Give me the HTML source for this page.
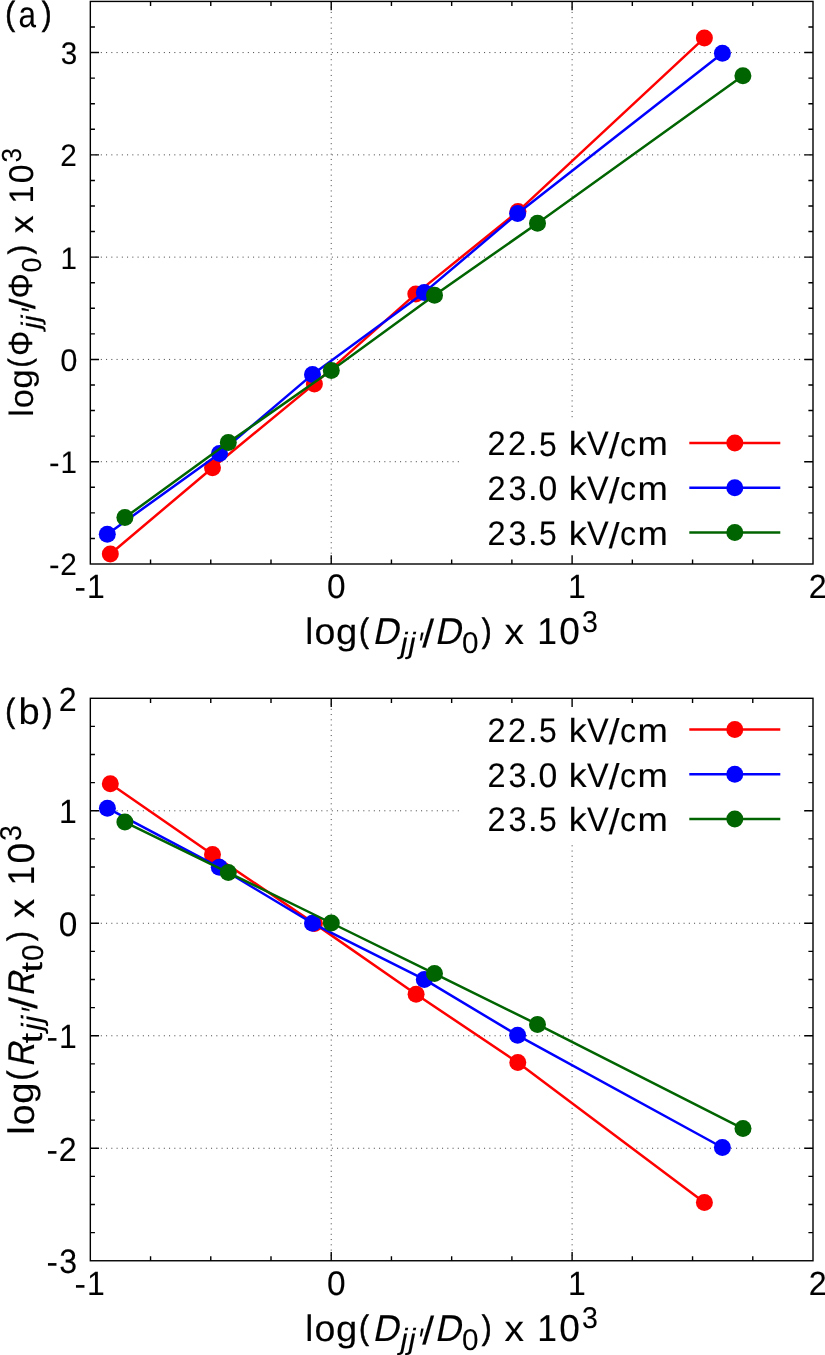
<!DOCTYPE html>
<html><head><meta charset="utf-8"><style>
html,body{margin:0;padding:0;background:#fff;overflow:hidden}
svg{display:block;will-change:transform}
text{font-family:"Liberation Sans",sans-serif;text-rendering:geometricPrecision}

</style></head><body>
<svg width="825" height="1355" viewBox="0 0 825 1355">
<rect x="0" y="0" width="825" height="1355" fill="#fff"/>
<line x1="90.33" y1="461.71" x2="813.0" y2="461.71" stroke="#404040" stroke-width="1" stroke-dasharray="1 4.25"/>
<line x1="90.33" y1="359.43" x2="813.0" y2="359.43" stroke="#404040" stroke-width="1" stroke-dasharray="1 4.25"/>
<line x1="90.33" y1="257.14" x2="813.0" y2="257.14" stroke="#404040" stroke-width="1" stroke-dasharray="1 4.25"/>
<line x1="90.33" y1="154.86" x2="813.0" y2="154.86" stroke="#404040" stroke-width="1" stroke-dasharray="1 4.25"/>
<line x1="90.33" y1="52.57" x2="813.0" y2="52.57" stroke="#404040" stroke-width="1" stroke-dasharray="1 4.25"/>
<line x1="331.22" y1="1.43" x2="331.22" y2="564.0" stroke="#404040" stroke-width="1" stroke-dasharray="1 4.25"/>
<line x1="572.11" y1="1.43" x2="572.11" y2="564.0" stroke="#404040" stroke-width="1" stroke-dasharray="1 4.25"/>
<rect x="462.5" y="421.00" width="337.5" height="142.60" fill="#fff"/>
<polyline points="110.30,554.00 212.50,467.70 314.40,383.90 415.80,293.90 518.00,211.40 704.40,37.90" fill="none" stroke="#ff0000" stroke-width="2.5" stroke-linejoin="round"/>
<circle cx="110.30" cy="554.00" r="8.5" fill="#ff0000"/>
<circle cx="212.50" cy="467.70" r="8.5" fill="#ff0000"/>
<circle cx="314.40" cy="383.90" r="8.5" fill="#ff0000"/>
<circle cx="415.80" cy="293.90" r="8.5" fill="#ff0000"/>
<circle cx="518.00" cy="211.40" r="8.5" fill="#ff0000"/>
<circle cx="704.40" cy="37.90" r="8.5" fill="#ff0000"/>
<polyline points="107.30,534.20 219.50,453.40 312.50,374.40 424.30,292.40 517.60,213.50 722.40,53.20" fill="none" stroke="#0000ff" stroke-width="2.5" stroke-linejoin="round"/>
<circle cx="107.30" cy="534.20" r="8.5" fill="#0000ff"/>
<circle cx="219.50" cy="453.40" r="8.5" fill="#0000ff"/>
<circle cx="312.50" cy="374.40" r="8.5" fill="#0000ff"/>
<circle cx="424.30" cy="292.40" r="8.5" fill="#0000ff"/>
<circle cx="517.60" cy="213.50" r="8.5" fill="#0000ff"/>
<circle cx="722.40" cy="53.20" r="8.5" fill="#0000ff"/>
<polyline points="124.90,517.60 228.30,442.60 331.30,370.60 434.50,295.20 537.50,223.30 742.90,75.80" fill="none" stroke="#006400" stroke-width="2.5" stroke-linejoin="round"/>
<circle cx="124.90" cy="517.60" r="8.5" fill="#006400"/>
<circle cx="228.30" cy="442.60" r="8.5" fill="#006400"/>
<circle cx="331.30" cy="370.60" r="8.5" fill="#006400"/>
<circle cx="434.50" cy="295.20" r="8.5" fill="#006400"/>
<circle cx="537.50" cy="223.30" r="8.5" fill="#006400"/>
<circle cx="742.90" cy="75.80" r="8.5" fill="#006400"/>
<rect x="90.33" y="1.43" width="722.67" height="562.57" fill="none" stroke="#000" stroke-width="1.4"/>
<path d="M150.55 564.0v-4.6M150.55 1.43v4.6M210.77 564.0v-4.6M210.77 1.43v4.6M271.00 564.0v-4.6M271.00 1.43v4.6M331.22 564.0v-8.7M331.22 1.43v8.7M391.44 564.0v-4.6M391.44 1.43v4.6M451.66 564.0v-4.6M451.66 1.43v4.6M511.89 564.0v-4.6M511.89 1.43v4.6M572.11 564.0v-8.7M572.11 1.43v8.7M632.33 564.0v-4.6M632.33 1.43v4.6M692.56 564.0v-4.6M692.56 1.43v4.6M752.78 564.0v-4.6M752.78 1.43v4.6M90.33 538.43h4.6M813.0 538.43h-4.6M90.33 512.86h4.6M813.0 512.86h-4.6M90.33 487.29h4.6M813.0 487.29h-4.6M90.33 461.71h8.7M813.0 461.71h-8.7M90.33 436.14h4.6M813.0 436.14h-4.6M90.33 410.57h4.6M813.0 410.57h-4.6M90.33 385.00h4.6M813.0 385.00h-4.6M90.33 359.43h8.7M813.0 359.43h-8.7M90.33 333.86h4.6M813.0 333.86h-4.6M90.33 308.29h4.6M813.0 308.29h-4.6M90.33 282.71h4.6M813.0 282.71h-4.6M90.33 257.14h8.7M813.0 257.14h-8.7M90.33 231.57h4.6M813.0 231.57h-4.6M90.33 206.00h4.6M813.0 206.00h-4.6M90.33 180.43h4.6M813.0 180.43h-4.6M90.33 154.86h8.7M813.0 154.86h-8.7M90.33 129.29h4.6M813.0 129.29h-4.6M90.33 103.72h4.6M813.0 103.72h-4.6M90.33 78.14h4.6M813.0 78.14h-4.6M90.33 52.57h8.7M813.0 52.57h-8.7M90.33 27.00h4.6M813.0 27.00h-4.6" stroke="#000" stroke-width="1.4" fill="none"/>
<text transform="matrix(1.016 0 0 1.063 487.6 455.4)" font-size="32.00" fill="#000" stroke="#000" stroke-width="0.1">2</text>
<text transform="matrix(1.016 0 0 1.063 508 455.4)" font-size="32.00" fill="#000" stroke="#000" stroke-width="0.1">2</text>
<text transform="matrix(1.082 0 0 1.16 527.9 455.4)" font-size="32.00" fill="#000" stroke="#000" stroke-width="0.1">.</text>
<text transform="matrix(0.9949 0 0 1.065 539 455.5)" font-size="32.00" fill="#000" stroke="#000" stroke-width="0.1">5</text>
<text transform="matrix(1.118 0 0 1.049 568.8 455.4)" font-size="32.00" fill="#000" stroke="#000" stroke-width="0.1">k</text>
<text transform="matrix(1.015 0 0 1.06 587 455.4)" font-size="32.00" fill="#000" stroke="#000" stroke-width="0.1">V</text>
<text transform="matrix(1.213 0 0 1.119 608.8 458)" font-size="32.00" fill="#000" stroke="#000" stroke-width="0.1">/</text>
<text transform="matrix(1.003 0 0 1.048 619.9 455.5)" font-size="32.00" fill="#000" stroke="#000" stroke-width="0.1">c</text>
<text transform="matrix(1.139 0 0 1.041 637.6 455.4)" font-size="32.00" fill="#000" stroke="#000" stroke-width="0.1">m</text>
<line x1="689.3" y1="443.10" x2="780.3" y2="443.10" stroke="#ff0000" stroke-width="2.5"/>
<circle cx="734.8" cy="443.10" r="8.5" fill="#ff0000"/>
<text transform="matrix(1.016 0 0 1.063 487.6 500.2)" font-size="32.00" fill="#000" stroke="#000" stroke-width="0.1">2</text>
<text transform="matrix(1.012 0 0 1.068 508.5 500.3)" font-size="32.00" fill="#000" stroke="#000" stroke-width="0.1">3</text>
<text transform="matrix(1.082 0 0 1.16 527.9 500.2)" font-size="32.00" fill="#000" stroke="#000" stroke-width="0.1">.</text>
<text transform="matrix(1.054 0 0 1.068 538.6 500.3)" font-size="32.00" fill="#000" stroke="#000" stroke-width="0.1">0</text>
<text transform="matrix(1.118 0 0 1.049 568.8 500.2)" font-size="32.00" fill="#000" stroke="#000" stroke-width="0.1">k</text>
<text transform="matrix(1.015 0 0 1.06 587 500.2)" font-size="32.00" fill="#000" stroke="#000" stroke-width="0.1">V</text>
<text transform="matrix(1.213 0 0 1.119 608.8 502.8)" font-size="32.00" fill="#000" stroke="#000" stroke-width="0.1">/</text>
<text transform="matrix(1.003 0 0 1.048 619.9 500.3)" font-size="32.00" fill="#000" stroke="#000" stroke-width="0.1">c</text>
<text transform="matrix(1.139 0 0 1.041 637.6 500.2)" font-size="32.00" fill="#000" stroke="#000" stroke-width="0.1">m</text>
<line x1="689.3" y1="487.85" x2="780.3" y2="487.85" stroke="#0000ff" stroke-width="2.5"/>
<circle cx="734.8" cy="487.85" r="8.5" fill="#0000ff"/>
<text transform="matrix(1.016 0 0 1.063 487.6 544.9)" font-size="32.00" fill="#000" stroke="#000" stroke-width="0.1">2</text>
<text transform="matrix(1.012 0 0 1.068 508.5 545)" font-size="32.00" fill="#000" stroke="#000" stroke-width="0.1">3</text>
<text transform="matrix(1.082 0 0 1.16 527.9 544.9)" font-size="32.00" fill="#000" stroke="#000" stroke-width="0.1">.</text>
<text transform="matrix(0.9949 0 0 1.065 539 545)" font-size="32.00" fill="#000" stroke="#000" stroke-width="0.1">5</text>
<text transform="matrix(1.118 0 0 1.049 568.8 544.9)" font-size="32.00" fill="#000" stroke="#000" stroke-width="0.1">k</text>
<text transform="matrix(1.015 0 0 1.06 587 544.9)" font-size="32.00" fill="#000" stroke="#000" stroke-width="0.1">V</text>
<text transform="matrix(1.213 0 0 1.119 608.8 547.5)" font-size="32.00" fill="#000" stroke="#000" stroke-width="0.1">/</text>
<text transform="matrix(1.003 0 0 1.048 619.9 545)" font-size="32.00" fill="#000" stroke="#000" stroke-width="0.1">c</text>
<text transform="matrix(1.139 0 0 1.041 637.6 544.9)" font-size="32.00" fill="#000" stroke="#000" stroke-width="0.1">m</text>
<line x1="689.3" y1="532.60" x2="780.3" y2="532.60" stroke="#006400" stroke-width="2.5"/>
<circle cx="734.8" cy="532.60" r="8.5" fill="#006400"/>
<text transform="matrix(1.012 0 0 1.068 60.66 64.11)" font-size="29.30" fill="#000" stroke="#000" stroke-width="0.1">3</text>
<text transform="matrix(1.016 0 0 1.063 60.21 166.3)" font-size="29.30" fill="#000" stroke="#000" stroke-width="0.1">2</text>
<text transform="matrix(1.007 0 0 1.06 60.53 268.6)" font-size="29.30" fill="#000" stroke="#000" stroke-width="0.1">1</text>
<text transform="matrix(1.054 0 0 1.068 60.28 371)" font-size="29.30" fill="#000" stroke="#000" stroke-width="0.1">0</text>
<text transform="matrix(1.078 0 0 1.025 49.01 473.1)" font-size="29.30" fill="#000" stroke="#000" stroke-width="0.1">-</text>
<text transform="matrix(1.007 0 0 1.06 60.53 473.1)" font-size="29.30" fill="#000" stroke="#000" stroke-width="0.1">1</text>
<text transform="matrix(1.078 0 0 1.025 49.01 575.4)" font-size="29.30" fill="#000" stroke="#000" stroke-width="0.1">-</text>
<text transform="matrix(1.016 0 0 1.063 60.21 575.4)" font-size="29.30" fill="#000" stroke="#000" stroke-width="0.1">2</text>
<text transform="matrix(1.078 0 0 1.025 74.56 598.2)" font-size="31.70" fill="#000" stroke="#000" stroke-width="0.1">-</text>
<text transform="matrix(1.007 0 0 1.06 87.02 598.3)" font-size="31.70" fill="#000" stroke="#000" stroke-width="0.1">1</text>
<text transform="matrix(1.054 0 0 1.068 327 598.4)" font-size="31.70" fill="#000" stroke="#000" stroke-width="0.1">0</text>
<text transform="matrix(1.007 0 0 1.06 568.1 598.3)" font-size="31.70" fill="#000" stroke="#000" stroke-width="0.1">1</text>
<text transform="matrix(1.016 0 0 1.063 808.7 598.3)" font-size="31.70" fill="#000" stroke="#000" stroke-width="0.1">2</text>
<text transform="matrix(1.022 0 0 1.049 305.2 644.1)" font-size="35.20" fill="#000" stroke="#000" stroke-width="0.1">l</text>
<text transform="matrix(1.063 0 0 1.048 314.5 644.2)" font-size="35.20" fill="#000" stroke="#000" stroke-width="0.1">o</text>
<text transform="matrix(1.087 0 0 1.032 336 643.9)" font-size="35.20" fill="#000" stroke="#000" stroke-width="0.1">g</text>
<text transform="matrix(0.8453 0 0 0.956 359.1 641.8)" font-size="35.20" fill="#000" stroke="#000" stroke-width="0.6">(</text>
<text transform="matrix(1.035 0 -0.2119 1.06 372.2 644.1)" font-size="35.20" fill="#000" stroke="#000" stroke-width="0.1">D</text>
<text transform="matrix(1.128 0 -0.2076 1.038 399.1 652.7)" font-size="28.20" fill="#000" stroke="#000" stroke-width="0.1">j</text>
<text transform="matrix(1.128 0 -0.2076 1.038 406.9 652.7)" font-size="28.20" fill="#000" stroke="#000" stroke-width="0.1">j</text>
<text transform="matrix(0.9239 0 -0.2506 1.253 415.1 656.6)" font-size="28.20" fill="#000" stroke="#000" stroke-width="0.1">&#39;</text>
<text transform="matrix(1.213 0 0 1.119 422.2 647)" font-size="35.20" fill="#000" stroke="#000" stroke-width="0.1">/</text>
<text transform="matrix(1.035 0 -0.2119 1.06 434.5 644.1)" font-size="35.20" fill="#000" stroke="#000" stroke-width="0.1">D</text>
<text transform="matrix(1.054 0 0 1.068 461.9 653)" font-size="28.20" fill="#000" stroke="#000" stroke-width="0.1">0</text>
<text transform="matrix(0.8453 0 0 0.956 481.8 641.8)" font-size="35.20" fill="#000" stroke="#000" stroke-width="0.6">)</text>
<text transform="matrix(1.109 0 0 1.035 504.6 644.1)" font-size="35.20" fill="#000" stroke="#000" stroke-width="0.1">x</text>
<text transform="matrix(1.007 0 0 1.06 537.2 644.1)" font-size="35.20" fill="#000" stroke="#000" stroke-width="0.1">1</text>
<text transform="matrix(1.054 0 0 1.068 559.3 644.2)" font-size="35.20" fill="#000" stroke="#000" stroke-width="0.1">0</text>
<text transform="matrix(1.012 0 0 1.068 581.9 631.5)" font-size="28.20" fill="#000" stroke="#000" stroke-width="0.1">3</text>
<g transform="translate(32.6 417.60) rotate(-90)">
<text transform="matrix(1.022 0 0 1.049 0.8165 0)" font-size="32.20" fill="#000" stroke="#000" stroke-width="0.1">l</text>
<text transform="matrix(1.063 0 0 1.048 9.285 0.1264)" font-size="32.20" fill="#000" stroke="#000" stroke-width="0.1">o</text>
<text transform="matrix(1.087 0 0 1.032 28.95 -0.1991)" font-size="32.20" fill="#000" stroke="#000" stroke-width="0.1">g</text>
<text transform="matrix(0.8453 0 0 0.956 50.17 -2.128)" font-size="32.20" fill="#000" stroke="#000" stroke-width="0.6">(</text>
<text transform="matrix(0.9864 0 0 1.044 61.64 -0.1806)" font-size="32.20" fill="#000" stroke="#000" stroke-width="0.1">Φ</text>
<text transform="matrix(1.128 0 -0.2076 1.038 87.28 7.858)" font-size="25.76" fill="#000" stroke="#000" stroke-width="0.1">j</text>
<text transform="matrix(1.128 0 -0.2076 1.038 94.43 7.858)" font-size="25.76" fill="#000" stroke="#000" stroke-width="0.1">j</text>
<text transform="matrix(0.9239 0 -0.2506 1.253 101.9 11.47)" font-size="25.76" fill="#000" stroke="#000" stroke-width="0.1">&#39;</text>
<text transform="matrix(1.213 0 0 1.119 108.4 2.635)" font-size="32.20" fill="#000" stroke="#000" stroke-width="0.1">/</text>
<text transform="matrix(0.9864 0 0 1.044 119.2 -0.1806)" font-size="32.20" fill="#000" stroke="#000" stroke-width="0.1">Φ</text>
<text transform="matrix(1.054 0 0 1.068 145.2 8.146)" font-size="25.76" fill="#000" stroke="#000" stroke-width="0.1">0</text>
<text transform="matrix(0.8453 0 0 0.956 163.4 -2.128)" font-size="32.20" fill="#000" stroke="#000" stroke-width="0.6">)</text>
<text transform="matrix(1.109 0 0 1.035 184.3 0)" font-size="32.20" fill="#000" stroke="#000" stroke-width="0.1">x</text>
<text transform="matrix(1.007 0 0 1.06 214.1 0)" font-size="32.20" fill="#000" stroke="#000" stroke-width="0.1">1</text>
<text transform="matrix(1.054 0 0 1.068 234.3 0.12)" font-size="32.20" fill="#000" stroke="#000" stroke-width="0.1">0</text>
<text transform="matrix(1.012 0 0 1.068 255 -11.17)" font-size="25.76" fill="#000" stroke="#000" stroke-width="0.1">3</text>
</g>
<text transform="matrix(0.8453 0 0 0.956 5.173 24.59)" font-size="35.00" fill="#000" stroke="#000" stroke-width="0.6">(</text>
<text transform="matrix(0.8992 0 0 1.048 18.42 27.04)" font-size="35.00" fill="#000" stroke="#000" stroke-width="0.1">a</text>
<text transform="matrix(0.8453 0 0 0.956 41.73 24.59)" font-size="35.00" fill="#000" stroke="#000" stroke-width="0.6">)</text>
<line x1="90.33" y1="1148.26" x2="813.0" y2="1148.26" stroke="#404040" stroke-width="1" stroke-dasharray="1 4.25"/>
<line x1="90.33" y1="1035.77" x2="813.0" y2="1035.77" stroke="#404040" stroke-width="1" stroke-dasharray="1 4.25"/>
<line x1="90.33" y1="923.28" x2="813.0" y2="923.28" stroke="#404040" stroke-width="1" stroke-dasharray="1 4.25"/>
<line x1="90.33" y1="810.79" x2="813.0" y2="810.79" stroke="#404040" stroke-width="1" stroke-dasharray="1 4.25"/>
<line x1="331.22" y1="698.3" x2="331.22" y2="1260.75" stroke="#404040" stroke-width="1" stroke-dasharray="1 4.25"/>
<line x1="572.11" y1="698.3" x2="572.11" y2="1260.75" stroke="#404040" stroke-width="1" stroke-dasharray="1 4.25"/>
<rect x="462.5" y="697.80" width="337.5" height="143.70" fill="#fff"/>
<polyline points="110.30,783.80 212.50,854.50 314.50,923.60 416.10,994.20 517.80,1062.50 704.40,1202.50" fill="none" stroke="#ff0000" stroke-width="2.5" stroke-linejoin="round"/>
<circle cx="110.30" cy="783.80" r="8.5" fill="#ff0000"/>
<circle cx="212.50" cy="854.50" r="8.5" fill="#ff0000"/>
<circle cx="314.50" cy="923.60" r="8.5" fill="#ff0000"/>
<circle cx="416.10" cy="994.20" r="8.5" fill="#ff0000"/>
<circle cx="517.80" cy="1062.50" r="8.5" fill="#ff0000"/>
<circle cx="704.40" cy="1202.50" r="8.5" fill="#ff0000"/>
<polyline points="107.40,808.20 219.30,867.30 312.50,923.30 424.30,979.40 517.60,1035.30 722.40,1147.50" fill="none" stroke="#0000ff" stroke-width="2.5" stroke-linejoin="round"/>
<circle cx="107.40" cy="808.20" r="8.5" fill="#0000ff"/>
<circle cx="219.30" cy="867.30" r="8.5" fill="#0000ff"/>
<circle cx="312.50" cy="923.30" r="8.5" fill="#0000ff"/>
<circle cx="424.30" cy="979.40" r="8.5" fill="#0000ff"/>
<circle cx="517.60" cy="1035.30" r="8.5" fill="#0000ff"/>
<circle cx="722.40" cy="1147.50" r="8.5" fill="#0000ff"/>
<polyline points="124.90,822.10 228.30,872.60 331.30,923.00 434.50,973.60 537.50,1024.40 743.00,1128.60" fill="none" stroke="#006400" stroke-width="2.5" stroke-linejoin="round"/>
<circle cx="124.90" cy="822.10" r="8.5" fill="#006400"/>
<circle cx="228.30" cy="872.60" r="8.5" fill="#006400"/>
<circle cx="331.30" cy="923.00" r="8.5" fill="#006400"/>
<circle cx="434.50" cy="973.60" r="8.5" fill="#006400"/>
<circle cx="537.50" cy="1024.40" r="8.5" fill="#006400"/>
<circle cx="743.00" cy="1128.60" r="8.5" fill="#006400"/>
<rect x="90.33" y="698.3" width="722.67" height="562.45" fill="none" stroke="#000" stroke-width="1.4"/>
<path d="M150.55 1260.75v-4.6M150.55 698.3v4.6M210.77 1260.75v-4.6M210.77 698.3v4.6M271.00 1260.75v-4.6M271.00 698.3v4.6M331.22 1260.75v-8.7M331.22 698.3v8.7M391.44 1260.75v-4.6M391.44 698.3v4.6M451.66 1260.75v-4.6M451.66 698.3v4.6M511.89 1260.75v-4.6M511.89 698.3v4.6M572.11 1260.75v-8.7M572.11 698.3v8.7M632.33 1260.75v-4.6M632.33 698.3v4.6M692.56 1260.75v-4.6M692.56 698.3v4.6M752.78 1260.75v-4.6M752.78 698.3v4.6M90.33 1232.63h4.6M813.0 1232.63h-4.6M90.33 1204.51h4.6M813.0 1204.51h-4.6M90.33 1176.38h4.6M813.0 1176.38h-4.6M90.33 1148.26h8.7M813.0 1148.26h-8.7M90.33 1120.14h4.6M813.0 1120.14h-4.6M90.33 1092.01h4.6M813.0 1092.01h-4.6M90.33 1063.89h4.6M813.0 1063.89h-4.6M90.33 1035.77h8.7M813.0 1035.77h-8.7M90.33 1007.65h4.6M813.0 1007.65h-4.6M90.33 979.52h4.6M813.0 979.52h-4.6M90.33 951.40h4.6M813.0 951.40h-4.6M90.33 923.28h8.7M813.0 923.28h-8.7M90.33 895.16h4.6M813.0 895.16h-4.6M90.33 867.03h4.6M813.0 867.03h-4.6M90.33 838.91h4.6M813.0 838.91h-4.6M90.33 810.79h8.7M813.0 810.79h-8.7M90.33 782.67h4.6M813.0 782.67h-4.6M90.33 754.54h4.6M813.0 754.54h-4.6M90.33 726.42h4.6M813.0 726.42h-4.6" stroke="#000" stroke-width="1.4" fill="none"/>
<text transform="matrix(1.016 0 0 1.063 487.6 741.8)" font-size="32.00" fill="#000" stroke="#000" stroke-width="0.1">2</text>
<text transform="matrix(1.016 0 0 1.063 508 741.8)" font-size="32.00" fill="#000" stroke="#000" stroke-width="0.1">2</text>
<text transform="matrix(1.082 0 0 1.16 527.9 741.8)" font-size="32.00" fill="#000" stroke="#000" stroke-width="0.1">.</text>
<text transform="matrix(0.9949 0 0 1.065 539 741.9)" font-size="32.00" fill="#000" stroke="#000" stroke-width="0.1">5</text>
<text transform="matrix(1.118 0 0 1.049 568.8 741.8)" font-size="32.00" fill="#000" stroke="#000" stroke-width="0.1">k</text>
<text transform="matrix(1.015 0 0 1.06 587 741.8)" font-size="32.00" fill="#000" stroke="#000" stroke-width="0.1">V</text>
<text transform="matrix(1.213 0 0 1.119 608.8 744.4)" font-size="32.00" fill="#000" stroke="#000" stroke-width="0.1">/</text>
<text transform="matrix(1.003 0 0 1.048 619.9 741.9)" font-size="32.00" fill="#000" stroke="#000" stroke-width="0.1">c</text>
<text transform="matrix(1.139 0 0 1.041 637.6 741.8)" font-size="32.00" fill="#000" stroke="#000" stroke-width="0.1">m</text>
<line x1="689.3" y1="729.50" x2="780.3" y2="729.50" stroke="#ff0000" stroke-width="2.5"/>
<circle cx="734.8" cy="729.50" r="8.5" fill="#ff0000"/>
<text transform="matrix(1.016 0 0 1.063 487.6 786.5)" font-size="32.00" fill="#000" stroke="#000" stroke-width="0.1">2</text>
<text transform="matrix(1.012 0 0 1.068 508.5 786.7)" font-size="32.00" fill="#000" stroke="#000" stroke-width="0.1">3</text>
<text transform="matrix(1.082 0 0 1.16 527.9 786.5)" font-size="32.00" fill="#000" stroke="#000" stroke-width="0.1">.</text>
<text transform="matrix(1.054 0 0 1.068 538.6 786.7)" font-size="32.00" fill="#000" stroke="#000" stroke-width="0.1">0</text>
<text transform="matrix(1.118 0 0 1.049 568.8 786.5)" font-size="32.00" fill="#000" stroke="#000" stroke-width="0.1">k</text>
<text transform="matrix(1.015 0 0 1.06 587 786.5)" font-size="32.00" fill="#000" stroke="#000" stroke-width="0.1">V</text>
<text transform="matrix(1.213 0 0 1.119 608.8 789.2)" font-size="32.00" fill="#000" stroke="#000" stroke-width="0.1">/</text>
<text transform="matrix(1.003 0 0 1.048 619.9 786.7)" font-size="32.00" fill="#000" stroke="#000" stroke-width="0.1">c</text>
<text transform="matrix(1.139 0 0 1.041 637.6 786.5)" font-size="32.00" fill="#000" stroke="#000" stroke-width="0.1">m</text>
<line x1="689.3" y1="774.25" x2="780.3" y2="774.25" stroke="#0000ff" stroke-width="2.5"/>
<circle cx="734.8" cy="774.25" r="8.5" fill="#0000ff"/>
<text transform="matrix(1.016 0 0 1.063 487.6 831.3)" font-size="32.00" fill="#000" stroke="#000" stroke-width="0.1">2</text>
<text transform="matrix(1.012 0 0 1.068 508.5 831.4)" font-size="32.00" fill="#000" stroke="#000" stroke-width="0.1">3</text>
<text transform="matrix(1.082 0 0 1.16 527.9 831.3)" font-size="32.00" fill="#000" stroke="#000" stroke-width="0.1">.</text>
<text transform="matrix(0.9949 0 0 1.065 539 831.4)" font-size="32.00" fill="#000" stroke="#000" stroke-width="0.1">5</text>
<text transform="matrix(1.118 0 0 1.049 568.8 831.3)" font-size="32.00" fill="#000" stroke="#000" stroke-width="0.1">k</text>
<text transform="matrix(1.015 0 0 1.06 587 831.3)" font-size="32.00" fill="#000" stroke="#000" stroke-width="0.1">V</text>
<text transform="matrix(1.213 0 0 1.119 608.8 833.9)" font-size="32.00" fill="#000" stroke="#000" stroke-width="0.1">/</text>
<text transform="matrix(1.003 0 0 1.048 619.9 831.4)" font-size="32.00" fill="#000" stroke="#000" stroke-width="0.1">c</text>
<text transform="matrix(1.139 0 0 1.041 637.6 831.3)" font-size="32.00" fill="#000" stroke="#000" stroke-width="0.1">m</text>
<line x1="689.3" y1="819.00" x2="780.3" y2="819.00" stroke="#006400" stroke-width="2.5"/>
<circle cx="734.8" cy="819.00" r="8.5" fill="#006400"/>
<text transform="matrix(1.016 0 0 1.063 58.73 710.7)" font-size="31.70" fill="#000" stroke="#000" stroke-width="0.1">2</text>
<text transform="matrix(1.007 0 0 1.06 59.08 823.2)" font-size="31.70" fill="#000" stroke="#000" stroke-width="0.1">1</text>
<text transform="matrix(1.054 0 0 1.068 58.82 935.8)" font-size="31.70" fill="#000" stroke="#000" stroke-width="0.1">0</text>
<text transform="matrix(1.078 0 0 1.025 46.62 1048)" font-size="31.70" fill="#000" stroke="#000" stroke-width="0.1">-</text>
<text transform="matrix(1.007 0 0 1.06 59.08 1048)" font-size="31.70" fill="#000" stroke="#000" stroke-width="0.1">1</text>
<text transform="matrix(1.078 0 0 1.025 46.62 1161)" font-size="31.70" fill="#000" stroke="#000" stroke-width="0.1">-</text>
<text transform="matrix(1.016 0 0 1.063 58.73 1161)" font-size="31.70" fill="#000" stroke="#000" stroke-width="0.1">2</text>
<text transform="matrix(1.078 0 0 1.025 46.62 1273)" font-size="31.70" fill="#000" stroke="#000" stroke-width="0.1">-</text>
<text transform="matrix(1.012 0 0 1.068 59.22 1273)" font-size="31.70" fill="#000" stroke="#000" stroke-width="0.1">3</text>
<text transform="matrix(1.078 0 0 1.025 74.56 1295)" font-size="31.70" fill="#000" stroke="#000" stroke-width="0.1">-</text>
<text transform="matrix(1.007 0 0 1.06 87.02 1295)" font-size="31.70" fill="#000" stroke="#000" stroke-width="0.1">1</text>
<text transform="matrix(1.054 0 0 1.068 327 1295)" font-size="31.70" fill="#000" stroke="#000" stroke-width="0.1">0</text>
<text transform="matrix(1.007 0 0 1.06 568.1 1295)" font-size="31.70" fill="#000" stroke="#000" stroke-width="0.1">1</text>
<text transform="matrix(1.016 0 0 1.063 808.7 1295)" font-size="31.70" fill="#000" stroke="#000" stroke-width="0.1">2</text>
<text transform="matrix(1.022 0 0 1.049 305.2 1341)" font-size="35.20" fill="#000" stroke="#000" stroke-width="0.1">l</text>
<text transform="matrix(1.063 0 0 1.048 314.5 1341)" font-size="35.20" fill="#000" stroke="#000" stroke-width="0.1">o</text>
<text transform="matrix(1.087 0 0 1.032 336 1341)" font-size="35.20" fill="#000" stroke="#000" stroke-width="0.1">g</text>
<text transform="matrix(0.8453 0 0 0.956 359.1 1339)" font-size="35.20" fill="#000" stroke="#000" stroke-width="0.6">(</text>
<text transform="matrix(1.035 0 -0.2119 1.06 372.2 1341)" font-size="35.20" fill="#000" stroke="#000" stroke-width="0.1">D</text>
<text transform="matrix(1.128 0 -0.2076 1.038 399.1 1349)" font-size="28.20" fill="#000" stroke="#000" stroke-width="0.1">j</text>
<text transform="matrix(1.128 0 -0.2076 1.038 406.9 1349)" font-size="28.20" fill="#000" stroke="#000" stroke-width="0.1">j</text>
<text transform="matrix(0.9239 0 -0.2506 1.253 415.1 1353)" font-size="28.20" fill="#000" stroke="#000" stroke-width="0.1">&#39;</text>
<text transform="matrix(1.213 0 0 1.119 422.2 1344)" font-size="35.20" fill="#000" stroke="#000" stroke-width="0.1">/</text>
<text transform="matrix(1.035 0 -0.2119 1.06 434.5 1341)" font-size="35.20" fill="#000" stroke="#000" stroke-width="0.1">D</text>
<text transform="matrix(1.054 0 0 1.068 461.9 1350)" font-size="28.20" fill="#000" stroke="#000" stroke-width="0.1">0</text>
<text transform="matrix(0.8453 0 0 0.956 481.8 1339)" font-size="35.20" fill="#000" stroke="#000" stroke-width="0.6">)</text>
<text transform="matrix(1.109 0 0 1.035 504.6 1341)" font-size="35.20" fill="#000" stroke="#000" stroke-width="0.1">x</text>
<text transform="matrix(1.007 0 0 1.06 537.2 1341)" font-size="35.20" fill="#000" stroke="#000" stroke-width="0.1">1</text>
<text transform="matrix(1.054 0 0 1.068 559.3 1341)" font-size="35.20" fill="#000" stroke="#000" stroke-width="0.1">0</text>
<text transform="matrix(1.012 0 0 1.068 581.9 1328)" font-size="28.20" fill="#000" stroke="#000" stroke-width="0.1">3</text>
<g transform="translate(33.7 1135.30) rotate(-90)">
<text transform="matrix(1.022 0 0 1.049 0.8926 0)" font-size="35.20" fill="#000" stroke="#000" stroke-width="0.1">l</text>
<text transform="matrix(1.063 0 0 1.048 10.15 0.1381)" font-size="35.20" fill="#000" stroke="#000" stroke-width="0.1">o</text>
<text transform="matrix(1.087 0 0 1.032 31.65 -0.2177)" font-size="35.20" fill="#000" stroke="#000" stroke-width="0.1">g</text>
<text transform="matrix(0.8453 0 0 0.956 54.84 -2.326)" font-size="35.20" fill="#000" stroke="#000" stroke-width="0.6">(</text>
<text transform="matrix(0.9564 0 -0.2119 1.06 68.09 0)" font-size="35.20" fill="#000" stroke="#000" stroke-width="0.1">R</text>
<text transform="matrix(1.337 0 0 1.073 92.04 8.564)" font-size="28.16" fill="#000" stroke="#000" stroke-width="0.1">t</text>
<text transform="matrix(1.128 0 -0.2076 1.038 103.2 8.59)" font-size="28.16" fill="#000" stroke="#000" stroke-width="0.1">j</text>
<text transform="matrix(1.128 0 -0.2076 1.038 111 8.59)" font-size="28.16" fill="#000" stroke="#000" stroke-width="0.1">j</text>
<text transform="matrix(0.9239 0 -0.2506 1.253 119.2 12.54)" font-size="28.16" fill="#000" stroke="#000" stroke-width="0.1">&#39;</text>
<text transform="matrix(1.213 0 0 1.119 126.3 2.881)" font-size="35.20" fill="#000" stroke="#000" stroke-width="0.1">/</text>
<text transform="matrix(0.9564 0 -0.2119 1.06 138.8 0)" font-size="35.20" fill="#000" stroke="#000" stroke-width="0.1">R</text>
<text transform="matrix(1.337 0 0 1.073 162.8 8.564)" font-size="28.16" fill="#000" stroke="#000" stroke-width="0.1">t</text>
<text transform="matrix(1.054 0 0 1.068 174.3 8.905)" font-size="28.16" fill="#000" stroke="#000" stroke-width="0.1">0</text>
<text transform="matrix(0.8453 0 0 0.956 194.2 -2.326)" font-size="35.20" fill="#000" stroke="#000" stroke-width="0.6">)</text>
<text transform="matrix(1.109 0 0 1.035 217.1 0)" font-size="35.20" fill="#000" stroke="#000" stroke-width="0.1">x</text>
<text transform="matrix(1.007 0 0 1.06 249.7 0)" font-size="35.20" fill="#000" stroke="#000" stroke-width="0.1">1</text>
<text transform="matrix(1.054 0 0 1.068 271.8 0.1312)" font-size="35.20" fill="#000" stroke="#000" stroke-width="0.1">0</text>
<text transform="matrix(1.012 0 0 1.068 294.3 -12.22)" font-size="28.16" fill="#000" stroke="#000" stroke-width="0.1">3</text>
</g>
<text transform="matrix(0.8453 0 0 0.956 5.173 722)" font-size="35.00" fill="#000" stroke="#000" stroke-width="0.6">(</text>
<text transform="matrix(1.088 0 0 1.054 18.38 724.4)" font-size="35.00" fill="#000" stroke="#000" stroke-width="0.1">b</text>
<text transform="matrix(0.8453 0 0 0.956 42.5 722)" font-size="35.00" fill="#000" stroke="#000" stroke-width="0.6">)</text>
</svg>
</body></html>
